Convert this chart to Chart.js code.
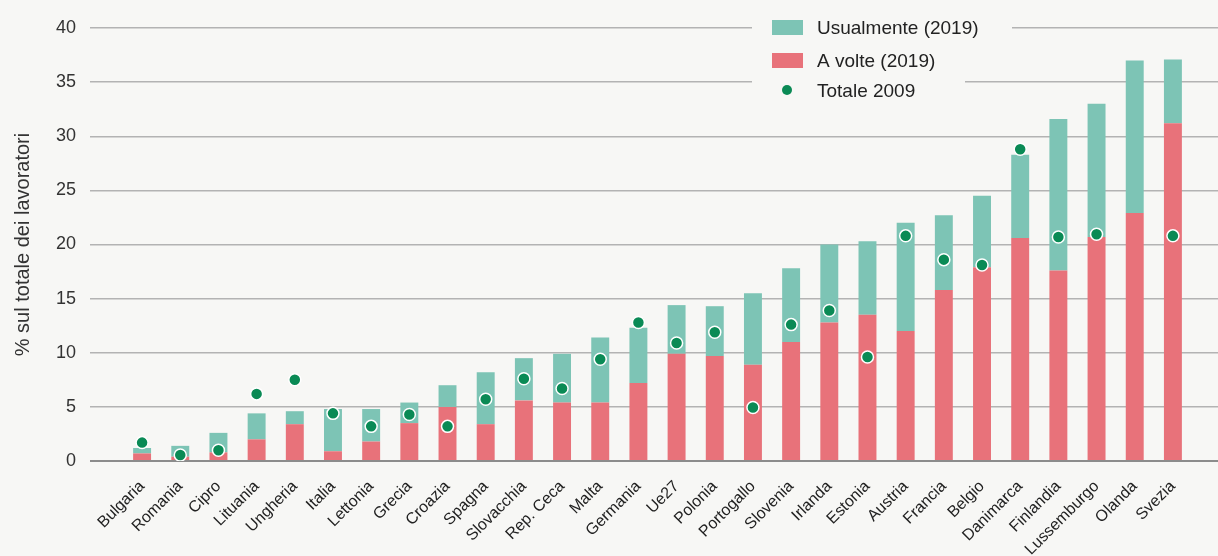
<!DOCTYPE html>
<html>
<head>
<meta charset="utf-8">
<script src="https://cdn.jsdelivr.net/npm/chart.js@4.4.1/dist/chart.umd.min.js"></script>
<style>
  html, body { margin: 0; padding: 0; background: #f7f7f5; }
  #wrap { width: 1218px; height: 556px; }
</style>
</head>
<body>
<div id="wrap"><canvas id="c" width="1218" height="556"></canvas></div>
<script>
const categories = ["Bulgaria","Romania","Cipro","Lituania","Ungheria","Italia","Lettonia","Grecia","Croazia","Spagna","Slovacchia","Rep. Ceca","Malta","Germania","Ue27","Polonia","Portogallo","Slovenia","Irlanda","Estonia","Austria","Francia","Belgio","Danimarca","Finlandia","Lussemburgo","Olanda","Svezia"];
const aVolte2019 = [0.7, 0.4, 0.8, 2.0, 3.4, 0.9, 1.8, 3.5, 5.0, 3.4, 5.6, 5.4, 5.4, 7.2, 9.9, 9.7, 8.9, 11.0, 12.8, 13.5, 12.0, 15.8, 17.9, 20.6, 17.6, 20.7, 22.9, 31.2];
const usualmente2019 = [0.5, 1.0, 1.8, 2.4, 1.2, 3.9, 3.0, 1.9, 2.0, 4.8, 3.9, 4.5, 6.0, 5.1, 4.5, 4.6, 6.6, 6.8, 7.2, 6.8, 10.0, 6.9, 6.6, 7.7, 14.0, 12.3, 14.1, 5.9];
const totale2009 = [1.7, 0.55, 1.0, 6.2, 7.5, 4.4, 3.2, 4.3, 3.2, 5.7, 7.6, 6.7, 9.4, 12.8, 10.9, 11.9, 4.95, 12.6, 13.9, 9.6, 20.8, 18.6, 18.1, 28.8, 20.7, 20.95, null, 20.8];
const yTicks = [0, 5, 10, 15, 20, 25, 30, 35, 40];
const seriesNames = ["Usualmente (2019)", "A volte (2019)", "Totale 2009"];
const yTitle = "% sul totale dei lavoratori";

const TEAL = '#7dc4b5';
const RED = '#e8727a';
const GREEN = '#0a8a55';
const BG = '#f7f7f5';
const FONT = "'Liberation Sans', Arial, sans-serif";

const gridColor = ctx => (ctx.tick && ctx.tick.value === 0) ? '#8c8c8c' : '#b3b3b3';
const gridWidth = ctx => (ctx.tick && ctx.tick.value === 0) ? 2 : 1.5;

const bgPlugin = {
  id: 'bg',
  beforeDraw(chart) {
    const c = chart.ctx;
    c.save();
    c.fillStyle = BG;
    c.fillRect(0, 0, chart.width, chart.height);
    c.restore();
  }
};

const legendPlugin = {
  id: 'customLegend',
  afterDraw(chart) {
    const c = chart.ctx;
    c.save();
    c.fillStyle = BG;
    c.fillRect(752, 8, 260, 62);
    c.fillRect(752, 70, 213, 36);
    c.fillStyle = TEAL;
    c.fillRect(772, 20, 31, 15);
    c.fillStyle = RED;
    c.fillRect(772, 53, 31, 15);
    c.beginPath();
    c.arc(787, 90, 5, 0, Math.PI * 2);
    c.fillStyle = GREEN;
    c.fill();
    c.fillStyle = '#222';
    c.font = "19px " + FONT;
    c.textBaseline = 'alphabetic';
    c.textAlign = 'left';
    c.fillText(seriesNames[0], 817, 34);
    c.fillText(seriesNames[1], 817, 67);
    c.fillText(seriesNames[2], 817, 97);
    c.restore();
  }
};

new Chart(document.getElementById('c'), {
  data: {
    labels: categories,
    datasets: [
      {
        type: 'line',
        label: seriesNames[2],
        data: totale2009,
        showLine: false,
        pointRadius: 6,
        pointHoverRadius: 6,
        pointBackgroundColor: GREEN,
        pointBorderColor: '#ffffff',
        pointBorderWidth: 1.5,
        stack: 'dots',
        order: 0
      },
      {
        type: 'bar',
        label: seriesNames[1],
        data: aVolte2019,
        backgroundColor: RED,
        barPercentage: 0.47,
        categoryPercentage: 1,
        stack: 'bars',
        order: 1
      },
      {
        type: 'bar',
        label: seriesNames[0],
        data: usualmente2019,
        backgroundColor: TEAL,
        barPercentage: 0.47,
        categoryPercentage: 1,
        stack: 'bars',
        order: 1
      }
    ]
  },
  options: {
    responsive: false,
    devicePixelRatio: 1,
    animation: false,
    layout: { padding: { top: 28, left: 0, right: 0, bottom: 0 } },
    plugins: {
      legend: { display: false },
      tooltip: { enabled: false }
    },
    scales: {
      x: {
        stacked: true,
        grid: { display: false },
        border: { display: false },
        ticks: {
          autoSkip: false,
          minRotation: 45,
          maxRotation: 45,
          padding: 8,
          color: '#222',
          font: { family: FONT, size: 16 }
        },
        afterFit(s) { s.height = 95; }
      },
      y: {
        stacked: true,
        min: 0,
        max: 40,
        afterBuildTicks(s) { s.ticks = yTicks.map(v => ({ value: v })); },
        ticks: {
          stepSize: 5,
          padding: 14,
          color: '#333',
          font: { family: FONT, size: 18 }
        },
        grid: { color: gridColor, lineWidth: gridWidth, tickLength: 33 },
        border: { display: false },
        title: {
          display: true,
          text: yTitle,
          color: '#333',
          padding: { top: 11, bottom: 0 },
          font: { family: FONT, size: 20 }
        },
        afterFit(s) { s.width = 123; }
      },
      y2: {
        position: 'right',
        min: 0,
        max: 40,
        afterBuildTicks(s) { s.ticks = yTicks.map(v => ({ value: v })); },
        ticks: { display: false, stepSize: 5 },
        grid: { drawOnChartArea: false, color: gridColor, lineWidth: gridWidth, tickLength: 26 },
        border: { display: false },
        afterFit(s) { s.width = 26; }
      }
    }
  },
  plugins: [bgPlugin, legendPlugin]
});
</script>
</body>
</html>
